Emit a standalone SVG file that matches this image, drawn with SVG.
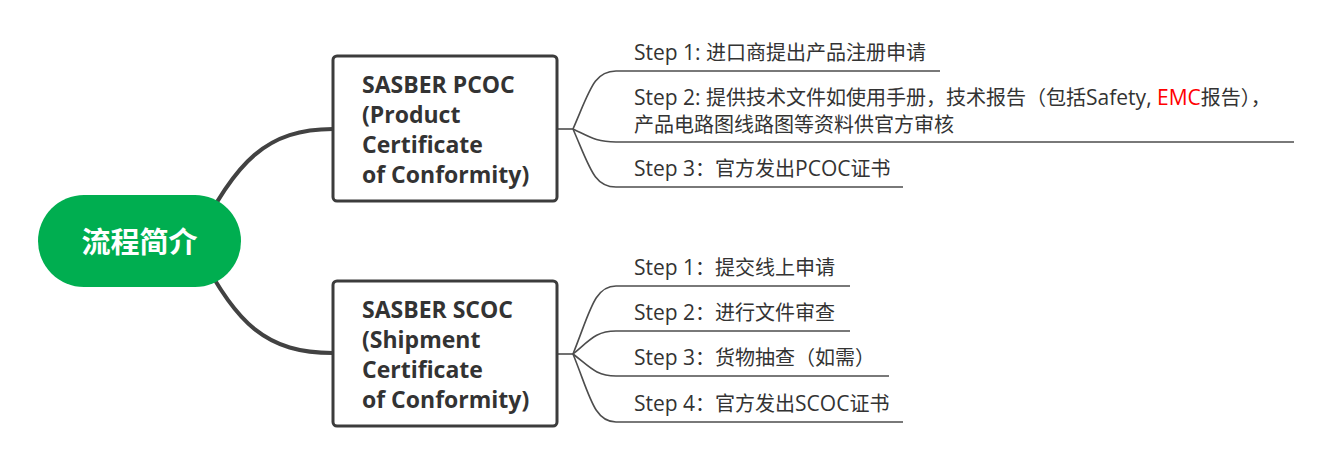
<svg xmlns="http://www.w3.org/2000/svg" width="1317" height="456" viewBox="0 0 1317 456">
<style>
.main{fill:none;stroke:#424242;stroke-width:4;stroke-linecap:round}
.br{fill:none;stroke:#4d4d4d;stroke-width:1.6}
.box{fill:#fff;stroke:#3c3c3c;stroke-width:3}
.nt{font-family:"Open Sans","Noto Sans CJK SC",sans-serif;font-weight:bold;font-size:23px;fill:#333}
.st{font-family:"Open Sans","Noto Sans CJK SC",sans-serif;font-size:20px;fill:#333}
.l{font-size:21px}
.rt{font-family:"Noto Sans CJK SC",sans-serif;font-weight:bold;font-size:29px;fill:#fff}
</style>
<rect width="1317" height="456" fill="#fff"/>
<g id="connectors">
<path class="main" d="M195,243 C235,160 268,129 333,129"/>
<path class="main" d="M195,243 C235,326 268,353 333,353"/>
<path class="br" d="M557,129 L573,129"/>
<path class="br" d="M573,129 C590,90 594,71 616,71 L940,71"/>
<path class="br" d="M573,129 C590,137 596,142 616,142 L1294,142"/>
<path class="br" d="M573,129 C590,168 594,187 616,187 L903,187"/>
<path class="br" d="M557,354 L573,354"/>
<path class="br" d="M573,354 C590,312 594,286 616,286 L850,286"/>
<path class="br" d="M573,354 C590,340 596,331 616,331 L850,331"/>
<path class="br" d="M573,354 C590,367 596,376 616,376 L889,376"/>
<path class="br" d="M573,354 C590,396 594,422 616,422 L903,422"/>
</g>
<g id="root">
<rect x="38" y="195" width="203" height="92" rx="46" fill="#00AE50"/>
<text class="rt" x="139.5" y="253" text-anchor="middle">流程简介</text>
</g>
<g id="pcoc">
<rect class="box" x="333" y="56" width="224" height="145" rx="4"/>
<text class="nt" x="362" y="93">SASBER PCOC</text>
<text class="nt" x="362" y="123">(Product</text>
<text class="nt" x="362" y="153">Certificate</text>
<text class="nt" x="362" y="183">of Conformity)</text>
</g>
<g id="scoc">
<rect class="box" x="333" y="281" width="224" height="145" rx="4"/>
<text class="nt" x="362" y="318">SASBER SCOC</text>
<text class="nt" x="362" y="348">(Shipment</text>
<text class="nt" x="362" y="378">Certificate</text>
<text class="nt" x="362" y="408">of Conformity)</text>
</g>
<g id="p1"><text class="st" x="634" y="60"><tspan class="l">Step 1: </tspan>进口商提出产品注册申请</text></g>
<g id="p2"><text class="st" x="634" y="105"><tspan class="l">Step 2: </tspan>提供技术文件如使用手册，技术报告（包括<tspan class="l">Safety, </tspan><tspan class="l" fill="#FF0000">EMC</tspan>报告），</text>
<text class="st" x="634" y="132">产品电路图线路图等资料供官方审核</text></g>
<g id="p3"><text class="st" x="634" y="176"><tspan class="l">Step 3</tspan>：官方发出<tspan class="l">PCOC</tspan>证书</text></g>
<g id="s1"><text class="st" x="634" y="275"><tspan class="l">Step 1</tspan>：提交线上申请</text></g>
<g id="s2"><text class="st" x="634" y="320"><tspan class="l">Step 2</tspan>：进行文件审查</text></g>
<g id="s3"><text class="st" x="634" y="365"><tspan class="l">Step 3</tspan>：货物抽查（如需）</text></g>
<g id="s4"><text class="st" x="634" y="411"><tspan class="l">Step 4</tspan>：官方发出<tspan class="l">SCOC</tspan>证书</text></g>
</svg>
